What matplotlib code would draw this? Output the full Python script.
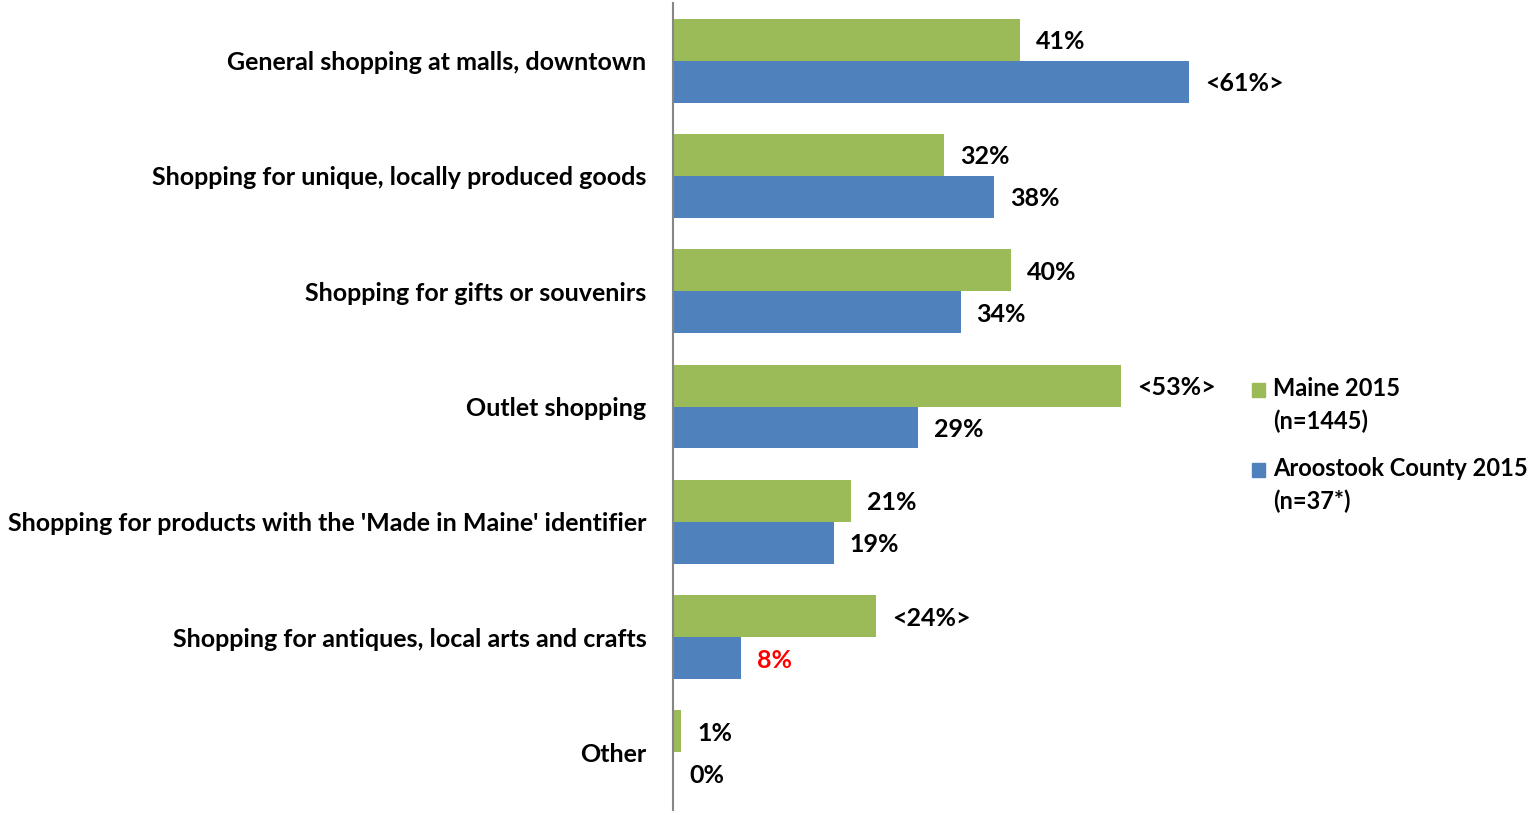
import matplotlib.pyplot as plt
import numpy as np

categories = [
    "General shopping at malls, downtown",
    "Shopping for unique, locally produced goods",
    "Shopping for gifts or souvenirs",
    "Outlet shopping",
    "Shopping for products with the 'Made in Maine' identifier",
    "Shopping for antiques, local arts and crafts",
    "Other",
]
maine = [41, 32, 40, 53, 21, 24, 1]
aroostook = [61, 38, 34, 29, 19, 8, 0]
maine_labels = ["41%", "32%", "40%", "<53%>", "21%", "<24%>", "1%"]
aroostook_labels = ["<61%>", "38%", "34%", "29%", "19%", "8%", "0%"]
aroostook_colors = ["black"] * 5 + ["#FF0000", "black"]

GREEN = "#9BBB59"
BLUE = "#4F81BD"
FONT = "Lato"
FS = 18

W, H = 1537, 815
fig = plt.figure(figsize=(W / 100, H / 100), dpi=100)
left, right, top, bottom = 673, 1265, 3, 810
ax = fig.add_axes([left / W, 1 - bottom / H, (right - left) / W, (bottom - top) / H])

y = np.arange(len(categories))
h = 0.364
ax.barh(y - h / 2, maine, height=h, color=GREEN)
ax.barh(y + h / 2, aroostook, height=h, color=BLUE)

ax.set_xlim(0, 70)
ax.set_ylim(len(categories) - 0.5, -0.5)

for s in ["top", "right", "bottom"]:
    ax.spines[s].set_visible(False)
ax.spines["left"].set_color("#868686")
ax.spines["left"].set_linewidth(1.5)
ax.set_xticks([])
ax.set_yticks(y)
ax.set_yticklabels(categories, fontsize=FS, fontweight="bold", family=FONT)
ax.tick_params(axis="y", length=0, pad=19)

for i in range(len(categories)):
    ax.text(maine[i] + 1.9, y[i] - h / 2, maine_labels[i], va="center_baseline", ha="left",
            fontsize=FS, fontweight="bold", family=FONT)
    ax.text(aroostook[i] + 1.9, y[i] + h / 2, aroostook_labels[i], va="center_baseline", ha="left",
            fontsize=FS, fontweight="bold", family=FONT, color=aroostook_colors[i])

# legend
legend_items = [("Maine 2015\n(n=1445)", GREEN, 390), ("Aroostook County 2015\n(n=37*)", BLUE, 470)]
for text, col, ypx in legend_items:
    fig.patches.append(plt.Rectangle((1252 / W, 1 - (ypx + 7) / H), 13 / W, 14 / H,
                                     transform=fig.transFigure, color=col))
    fig.text(1273 / W, 1 - (ypx - 13) / H, text, va="top", ha="left", fontsize=17,
             fontweight="bold", family=FONT, linespacing=1.5)

fig.savefig("out.png", dpi=100)
